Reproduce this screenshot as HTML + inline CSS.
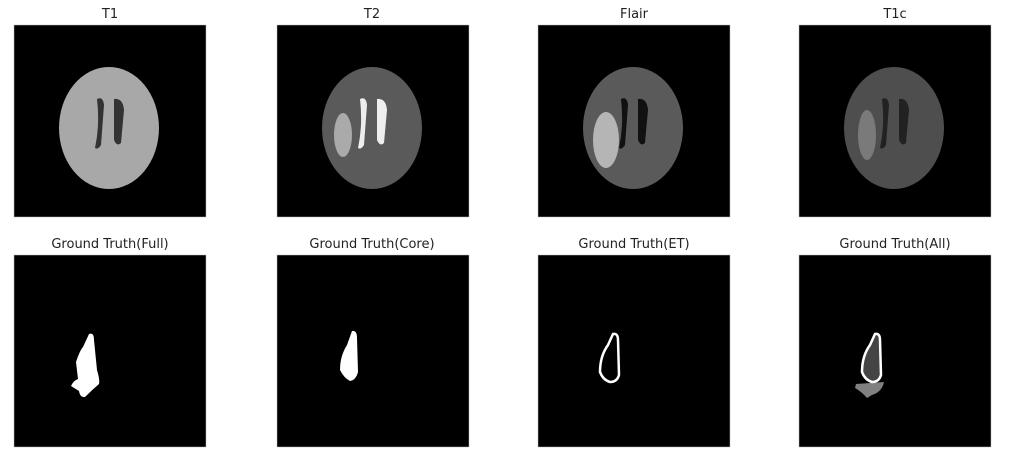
<!DOCTYPE html>
<html><head><meta charset="utf-8"><style>
body{margin:0;background:#fff;width:1023px;height:457px;overflow:hidden}
svg text{font-family:"DejaVu Sans","Liberation Sans",sans-serif;font-size:13px;fill:#222}
</style></head><body>
<svg width="1023" height="457">
<defs>
<g id="brain">
 <ellipse cx="0" cy="0" rx="50" ry="61"/>
</g>
</defs>
<!-- top row -->
<g>
 <text x="110" y="18" text-anchor="middle">T1</text>
 <rect x="14" y="25" width="192" height="192" fill="#000" stroke="#bbb" stroke-width="0.5"/>
 <ellipse cx="109" cy="128" rx="50" ry="61" fill="#a8a8a8"/>
 <path d="M97 99 Q103 96 104 105 L101 145 Q98 150 95 148 Q100 125 97 99Z" fill="#333"/>
 <path d="M114 99 Q123 98 124 110 L121 143 Q117 147 114 140 Z" fill="#333"/>
</g>
<g>
 <text x="372" y="18" text-anchor="middle">T2</text>
 <rect x="277" y="25" width="192" height="192" fill="#000" stroke="#bbb" stroke-width="0.5"/>
 <ellipse cx="372" cy="128" rx="50" ry="61" fill="#5a5a5a"/>
 <path d="M360 99 Q366 96 367 105 L364 145 Q361 150 358 148 Q363 125 360 99Z" fill="#eee"/>
 <path d="M377 99 Q386 98 387 110 L384 143 Q380 147 377 140 Z" fill="#eee"/>
 <ellipse cx="343" cy="135" rx="9" ry="22" fill="#aaa"/>
</g>
<g>
 <text x="634" y="18" text-anchor="middle">Flair</text>
 <rect x="538" y="25" width="192" height="192" fill="#000" stroke="#bbb" stroke-width="0.5"/>
 <ellipse cx="633" cy="128" rx="50" ry="61" fill="#5a5a5a"/>
 <path d="M621 99 Q627 96 628 105 L625 145 Q622 150 619 148 Q624 125 621 99Z" fill="#111"/>
 <path d="M638 99 Q647 98 648 110 L645 143 Q641 147 638 140 Z" fill="#111"/>
 <ellipse cx="606" cy="140" rx="13" ry="28" fill="#b5b5b5"/>
</g>
<g>
 <text x="895" y="18" text-anchor="middle">T1c</text>
 <rect x="799" y="25" width="192" height="192" fill="#000" stroke="#bbb" stroke-width="0.5"/>
 <ellipse cx="894" cy="128" rx="50" ry="61" fill="#4e4e4e"/>
 <path d="M882 99 Q888 96 889 105 L886 145 Q883 150 880 148 Q885 125 882 99Z" fill="#222"/>
 <path d="M899 99 Q908 98 909 110 L906 143 Q902 147 899 140 Z" fill="#222"/>
 <ellipse cx="867" cy="135" rx="9" ry="25" fill="#7a7a7a"/>
</g>
<!-- bottom row -->
<g>
 <text x="110" y="248" text-anchor="middle">Ground Truth(Full)</text>
 <rect x="14" y="255" width="192" height="192" fill="#000" stroke="#bbb" stroke-width="0.5"/>
 <path d="M89 334 Q94 332 94 340 L97 370 Q100 380 99 384 Q92 390 85 397 Q80 398 79 391 L71 386 Q73 381 78 379 L76 362 Q80 350 83 347 Z" fill="#fff"/>
</g>
<g>
 <text x="372" y="248" text-anchor="middle">Ground Truth(Core)</text>
 <rect x="277" y="255" width="192" height="192" fill="#000" stroke="#bbb" stroke-width="0.5"/>
 <path d="M352 331 Q357 330 357 338 L358 372 Q356 380 350 381 Q344 378 340 370 Q340 356 347 345 Z" fill="#fff"/>
</g>
<g>
 <text x="634" y="248" text-anchor="middle">Ground Truth(ET)</text>
 <rect x="538" y="255" width="192" height="192" fill="#000" stroke="#bbb" stroke-width="0.5"/>
 <path d="M613 334 Q618 333 618 340 L619 375 Q617 382 610 382 Q603 380 600 372 Q600 356 608 345 Z" fill="none" stroke="#fff" stroke-width="2.5"/>
</g>
<g>
 <text x="895" y="248" text-anchor="middle">Ground Truth(All)</text>
 <rect x="799" y="255" width="192" height="192" fill="#000" stroke="#bbb" stroke-width="0.5"/>
 <path d="M856 384 L884 382 Q882 392 872 395 L867 398 Q862 392 855 388 Z" fill="#808080"/>
 <path d="M875 334 Q880 333 880 340 L881 375 Q879 382 872 382 Q865 380 862 372 Q862 356 870 345 Z" fill="#444" stroke="#fff" stroke-width="2.5"/>
</g>
</svg>
</body></html>
